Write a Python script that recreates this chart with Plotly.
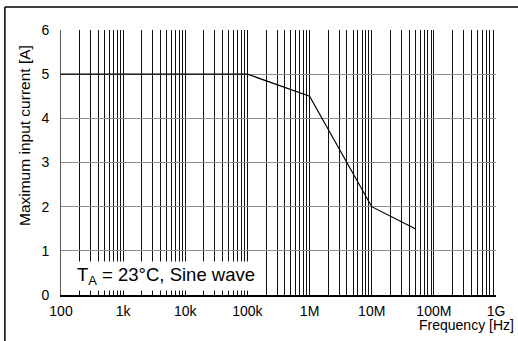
import plotly.graph_objects as go

# curve
freq_hz = [100, 1e5, 1e6, 1e7, 5e7]
current_a = [5, 5, 4.5, 2, 1.5]

decades = [100, 1e3, 1e4, 1e5, 1e6, 1e7, 1e8, 1e9]
decade_labels = ["100", "1k", "10k", "100k", "1M", "10M", "100M", "1G"]

# grid lines at 1..9 within every decade
grid_vals = []
grid_text = []
for d, lab in zip(decades, decade_labels):
    grid_vals.append(d)
    grid_text.append(lab)
    if d < 1e9:
        for m in range(2, 10):
            grid_vals.append(d * m)
            grid_text.append("")

font = "Liberation Sans, Arial, sans-serif"

fig = go.Figure()
fig.add_trace(go.Scatter(
    x=freq_hz, y=current_a, mode="lines",
    line=dict(color="black", width=1.2),
    showlegend=False, hoverinfo="skip"
))

fig.update_xaxes(
    type="log", range=[2, 9],
    tickvals=grid_vals, ticktext=grid_text,
    showgrid=True, gridcolor="#111111", gridwidth=1,
    showline=True, linecolor="black", linewidth=1.5,
    ticks="", zeroline=False, automargin=False,
    ticklabelstandoff=2,
    tickfont=dict(size=14, color="black", family=font),
)
fig.update_yaxes(
    range=[0, 6], dtick=1,
    showgrid=True, gridcolor="#8c8c8c", gridwidth=1,
    showline=True, linecolor="#555555", linewidth=1,
    ticks="", zeroline=False, automargin=False,
    ticklabelstandoff=8,
    tickfont=dict(size=14, color="black", family=font),
)

fig.add_annotation(
    xref="paper", yref="paper", x=-0.085, y=0.6,
    xanchor="center", yanchor="middle", textangle=-90,
    text="Maximum input current [A]", showarrow=False,
    font=dict(size=15.5, color="black", family=font),
)
fig.add_annotation(
    xref="paper", yref="paper", x=1.046, y=-0.113,
    xanchor="right", yanchor="middle",
    text="Frequency [Hz]", showarrow=False,
    font=dict(size=14, color="black", family=font),
)
fig.add_annotation(
    xref="paper", yref="paper", x=0.03, y=0.072,
    xanchor="left", yanchor="middle",
    text="T<sub>A</sub> = 23°C, Sine wave", showarrow=False,
    bgcolor="white", borderpad=2,
    font=dict(size=18.5, color="black", family=font),
)

# outer frame of the figure: top and left edges
fig.add_shape(
    type="line", xref="paper", yref="paper",
    x0=-0.129, y0=1.087, x1=1.1, y1=1.087,
    line=dict(color="black", width=1.5), layer="above",
)
fig.add_shape(
    type="line", xref="paper", yref="paper",
    x0=-0.129, y0=1.087, x1=-0.129, y1=-0.2,
    line=dict(color="black", width=1.5), layer="above",
)

fig.update_layout(
    width=518, height=341,
    margin=dict(l=61, r=22, t=30, b=46),
    plot_bgcolor="white", paper_bgcolor="white",
    font=dict(family=font, color="black"),
)

fig.write_html("out.html", config={"displayModeBar": False})

# drop the default page margin so the figure sits at the window corner
with open("out.html", encoding="utf-8") as f:
    page = f.read()
page = page.replace("<head>", "<head><style>body{margin:0;overflow:hidden}</style>", 1)
with open("out.html", "w", encoding="utf-8") as f:
    f.write(page)
